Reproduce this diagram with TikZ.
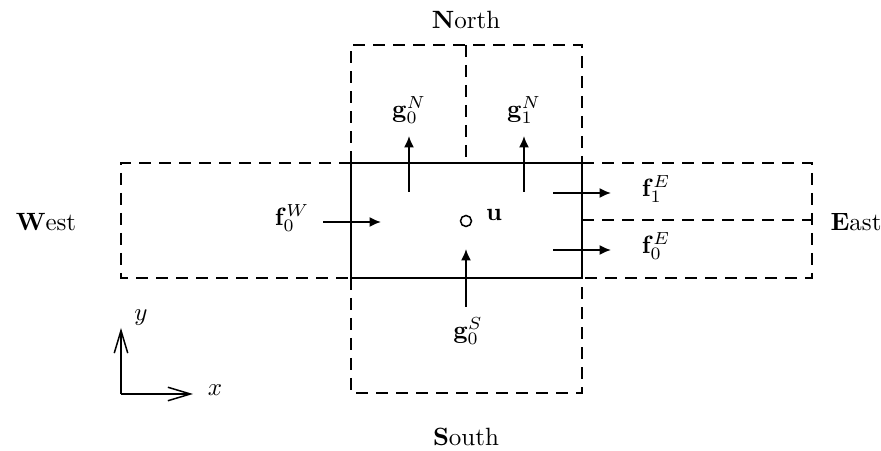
\documentclass[tikz,border=0pt]{standalone}
\usetikzlibrary{arrows.meta}
\begin{document}
\begin{tikzpicture}[x=0.4pt,y=-0.4pt,
  cell/.style={line width=0.75pt},
  dsh/.style={line width=0.7pt,dash pattern=on 4.8pt off 3.2pt},
  flux/.style={line width=0.7pt,-{Latex[length=4.6pt,width=4pt]}},
  axis/.style={line width=0.6pt,-{Straight Barb[length=9pt,width=5.4pt]}},
  lbl/.style={inner sep=0pt,font=\normalsize}]
\useasboundingbox (0,0) rectangle (881,451);
% dashed neighbour cells
\draw[dsh] (351,163) -- (351,45) -- (582,45) -- (582,163);
\draw[dsh] (466,45) -- (466,163);
\draw[dsh] (351,163) -- (121,163) -- (121,278) -- (351,278);
\draw[dsh] (582,163) -- (812,163) -- (812,278) -- (582,278);
\draw[dsh] (582,220) -- (812,220);
\draw[dsh] (351,278) -- (351,393) -- (582,393) -- (582,278);
% central cell
\draw[cell] (351,163) rectangle (582,278);
% centre value
\node[circle,draw,line width=0.6pt,minimum size=4.4pt,inner sep=0pt] (u) at (466,221) {};
\node[lbl] (ul) at (494,215) {$\mathbf{u}$};
% flux coordinates
\coordinate (n0a) at (409,192); \coordinate (n0b) at (409,136);
\coordinate (n1a) at (524,192); \coordinate (n1b) at (524,136);
\coordinate (wa) at (323,222); \coordinate (wb) at (381,222);
\coordinate (e1a) at (553,193); \coordinate (e1b) at (611,193);
\coordinate (e0a) at (553,250); \coordinate (e0b) at (611,250);
\coordinate (sa) at (466,307); \coordinate (sb) at (466,249);
\draw[flux] (n0a) -- (n0b);
\draw[flux] (n1a) -- (n1b);
\draw[flux] (wa) -- (wb);
\draw[flux] (e1a) -- (e1b);
\draw[flux] (e0a) -- (e0b);
\draw[flux] (sa) -- (sb);
% flux labels
\node[lbl] (gn0) at (409,110) {$\mathbf{g}_0^N$};
\node[lbl] (gn1) at (524,110) {$\mathbf{g}_1^N$};
\node[lbl] (fw0) at (292,218) {$\mathbf{f}_0^W$};
\node[lbl] (fe1) at (656,189) {$\mathbf{f}_1^E$};
\node[lbl] (fe0) at (656,246) {$\mathbf{f}_0^E$};
\node[lbl] (gs0) at (468,331) {$\mathbf{g}_0^S$};
% direction labels
\node[lbl] (north) at (466,20) {\textbf{N}orth};
\node[lbl] (west) at (46,222) {\textbf{W}est};
\node[lbl] (east) at (856,222) {\textbf{E}ast};
\node[lbl] (south) at (466,437) {\textbf{S}outh};
% axes
\coordinate (o) at (121,394);
\coordinate (ytip) at (121,328);
\coordinate (xtip) at (193,394);
\draw[axis] (o) -- (ytip);
\draw[axis] (o) -- (xtip);
\node[lbl] (ylab) at (141,318) {$y$};
\node[lbl] (xlab) at (215,390) {$x$};
\end{tikzpicture}
\end{document}
